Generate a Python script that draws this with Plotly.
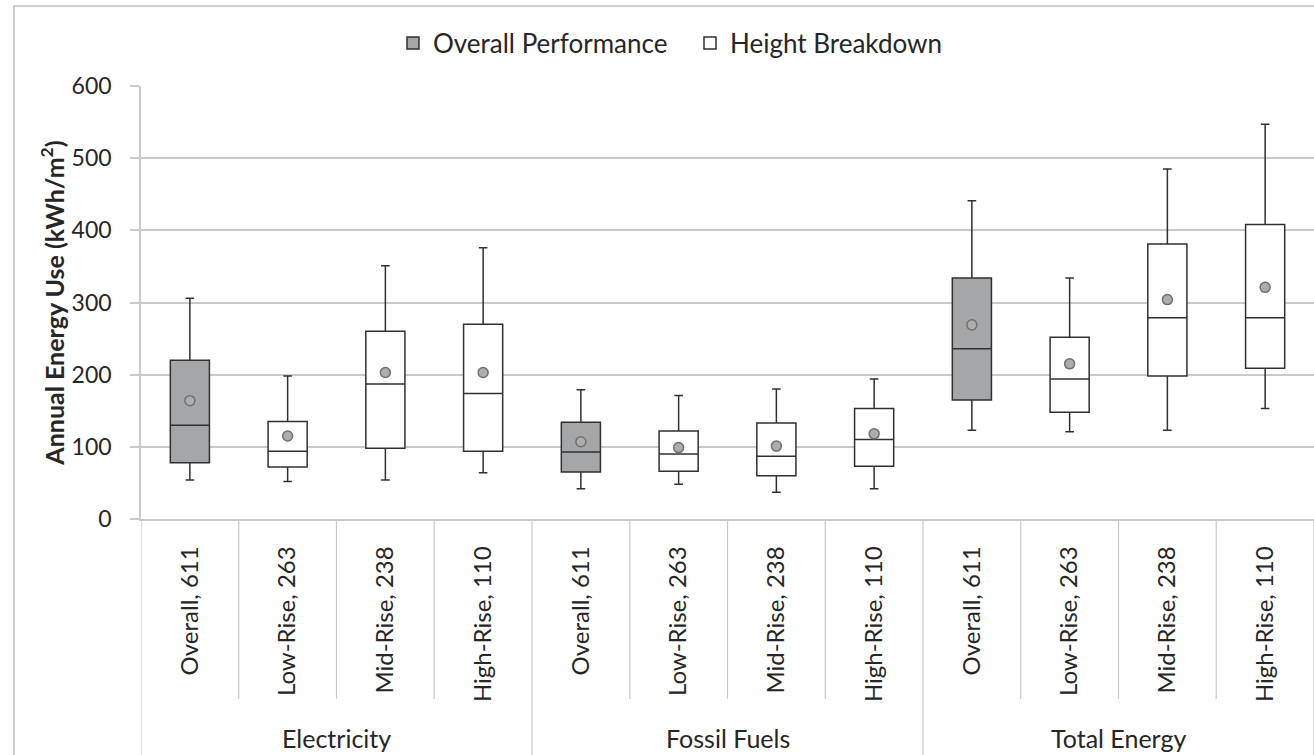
import plotly.graph_objects as go

groups = ["Electricity", "Fossil Fuels", "Total Energy"]
subcats = ["Overall, 611", "Low-Rise, 263", "Mid-Rise, 238", "High-Rise, 110"]
labels = [s for g in groups for s in subcats]
is_overall = [s.startswith("Overall") for g in groups for s in subcats]

lower = [54, 52, 54, 64, 42, 48, 37, 42, 123, 121, 123, 153]
q1 = [78, 72, 98, 94, 65, 66, 60, 73, 165, 148, 198, 209]
median = [130, 94, 187, 174, 93, 90, 87, 110, 236, 194, 279, 279]
q3 = [220, 135, 260, 270, 134, 122, 133, 153, 334, 252, 381, 408]
upper = [306, 198, 351, 376, 179, 171, 180, 194, 441, 334, 485, 547]
mean = [164, 115, 203, 203, 107, 99, 101, 118, 269, 215, 304, 321]

FONT = "Lato"
TXT = "#262626"
GRID = "#c9c9c9"

fig = go.Figure()

def add_boxes(sel, name, fill):
    idx = [i for i in range(len(labels)) if sel(i)]
    fig.add_trace(go.Box(
        name=name,
        x=idx,
        q1=[q1[i] for i in idx],
        median=[median[i] for i in idx],
        q3=[q3[i] for i in idx],
        lowerfence=[lower[i] for i in idx],
        upperfence=[upper[i] for i in idx],
        width=0.4,
        whiskerwidth=0.22,
        fillcolor=fill,
        line=dict(color="#303030", width=1.5),
        boxpoints=False,
        hoverinfo="skip",
    ))

add_boxes(lambda i: is_overall[i], "Overall Performance", "#a5a6a8")
add_boxes(lambda i: not is_overall[i], "Height Breakdown", "#ffffff")

fig.add_trace(go.Scatter(
    x=list(range(len(labels))), y=mean, mode="markers",
    marker=dict(symbol="circle", size=10, color="#adadad",
                line=dict(color="#707070", width=1.5)),
    showlegend=False, hoverinfo="skip",
))

shapes = []
ph = 519 - 86  # plot height px
for i in range(len(labels) + 1):
    xpos = i - 0.5
    if i % 4 == 0:
        y0 = -(755 - 519 + 5) / ph
    else:
        y0 = -(699 - 519) / ph
    shapes.append(dict(type="line", xref="x", yref="paper", x0=xpos, x1=xpos,
                       y0=0, y1=y0, line=dict(color=GRID, width=1.2)))
# outer chart frame
pw = 1314 - 141
shapes.append(dict(type="rect", xref="paper", yref="paper",
                   x0=(14 - 141) / pw, x1=(1330 - 141) / pw,
                   y0=-(800 - 519) / ph, y1=(519 - 6) / ph,
                   line=dict(color="#bfbfbf", width=1.5), fillcolor="rgba(0,0,0,0)",
                   layer="below"))

annotations = []
for gi, g in enumerate(groups):
    annotations.append(dict(x=gi * 4 + 1.5, xref="x", y=-(738 - 519) / ph, yref="paper",
                            text=g, showarrow=False, xanchor="center", yanchor="middle",
                            font=dict(family=FONT, size=25, color=TXT)))

fig.update_layout(
    width=1314, height=755,
    margin=dict(l=141, r=0, t=86, b=236),
    paper_bgcolor="white", plot_bgcolor="white",
    boxmode="overlay",
    font=dict(family=FONT, color=TXT),
    shapes=shapes,
    annotations=annotations,
    legend=dict(orientation="h", x=(393 - 141) / pw, xanchor="left",
                y=(519 - 43) / ph, yanchor="middle",
                font=dict(family=FONT, size=26, color=TXT),
                itemwidth=30, entrywidth=252, bgcolor="rgba(0,0,0,0)"),
    xaxis=dict(
        range=[-0.5, len(labels) - 0.5],
        tickmode="array", tickvals=list(range(len(labels))), ticktext=labels,
        tickangle=-90, tickfont=dict(family=FONT, size=24, color=TXT),
        showgrid=False, zeroline=False, showline=True, linecolor=GRID, linewidth=1.5,
        ticks="", ticklabelstandoff=16,
    ),
    yaxis=dict(
        range=[0, 600], dtick=100, tick0=0,
        showgrid=True, gridcolor=GRID, gridwidth=1.5,
        zeroline=False, showline=True, linecolor=GRID, linewidth=1.5,
        ticks="outside", ticklen=9, tickcolor=GRID, tickwidth=1.5,
        tickfont=dict(family=FONT, size=23, color=TXT),
        ticklabelstandoff=14,
        title=dict(text="<b>Annual Energy Use (kWh/m<sup>2</sup>)</b>",
                   font=dict(family=FONT, size=25, color=TXT), standoff=0),
    ),
)

fig.write_html("out.html")
